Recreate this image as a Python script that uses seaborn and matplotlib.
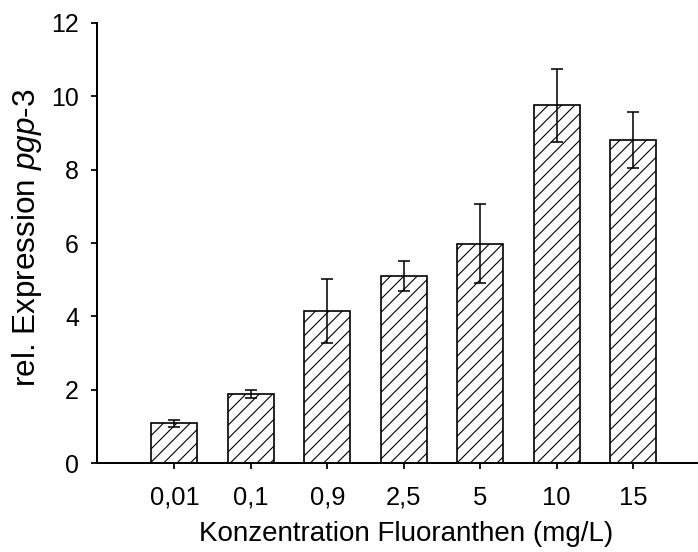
import numpy as np
import pandas as pd
import matplotlib
matplotlib.use("Agg")
import matplotlib.pyplot as plt
import seaborn as sns

categories = ["0,01", "0,1", "0,9", "2,5", "5", "10", "15"]
values = [1.09, 1.88, 4.15, 5.10, 5.98, 9.75, 8.80]
errors = [0.10, 0.11, 0.87, 0.40, 1.07, 1.00, 0.76]

sns.set_theme(style="ticks")
plt.rcParams["font.family"] = ["Liberation Sans", "DejaVu Sans"]
plt.rcParams["mathtext.fontset"] = "custom"
plt.rcParams["mathtext.it"] = "Liberation Sans:italic"
plt.rcParams["mathtext.rm"] = "Liberation Sans"
plt.rcParams["hatch.linewidth"] = 0.5
plt.rcParams["hatch.color"] = "black"

DPI = 160
fig = plt.figure(figsize=(698 / DPI, 552 / DPI), dpi=DPI)
ax = fig.add_axes([97 / 698, (552 - 463.3) / 552, (698 - 97) / 698, (463.3 - 22.7) / 552])

df = pd.DataFrame({"conc": categories, "expr": values})
sns.barplot(data=df, x="conc", y="expr", order=categories, color="white",
            edgecolor="black", linewidth=0.75, width=0.6, errorbar=None,
            ax=ax, zorder=2)
for p in ax.patches:
    p.set_hatch("////")
    p.set_facecolor("white")
    p.set_edgecolor("black")

ax.errorbar(np.arange(len(categories)), values, yerr=errors, fmt="none",
            ecolor="black", elinewidth=0.7, capsize=2.7, capthick=0.7, zorder=3)

ax.set_xlim(-1.013, 6.85)
ax.set_ylim(0, 12)
ax.set_yticks([0, 2, 4, 6, 8, 10, 12])
sns.despine(ax=ax)
for s in ["left", "bottom"]:
    ax.spines[s].set_linewidth(0.9)
    ax.spines[s].set_color("black")
ax.tick_params(axis="both", direction="out", length=2.7, width=0.8, color="black",
               labelcolor="black")
ax.tick_params(axis="y", labelsize=11.2, pad=5.5)
ax.tick_params(axis="x", labelsize=11.5, pad=7.5)

ax.set_xlabel("Konzentration Fluoranthen (mg/L)", fontsize=12.5, color="black")
ax.xaxis.set_label_coords(0.514, -0.132)
ax.set_ylabel(r"rel. Expression $\mathit{pgp}$-$\mathit{3}$", fontsize=14.2, color="black")
ax.yaxis.set_label_coords(-0.089, 0.511)

fig.savefig("out.png", dpi=DPI)
